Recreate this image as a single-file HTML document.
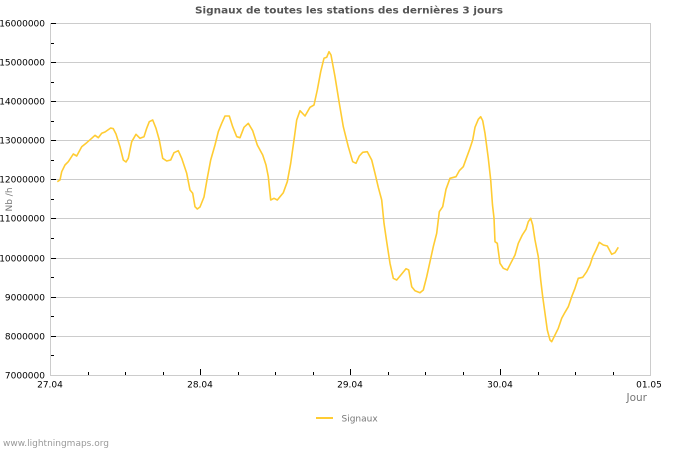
<!DOCTYPE html>
<html>
<head>
<meta charset="utf-8">
<style>
html,body{margin:0;padding:0;background:#fff;}
svg{display:block;}
text{font-family:"DejaVu Sans","Liberation Sans",sans-serif;}
</style>
</head>
<body>
<svg width="700" height="450" viewBox="0 0 700 450" xmlns="http://www.w3.org/2000/svg">
<rect width="700" height="450" fill="#fff"/>
<text x="349" y="13.5" text-anchor="middle" font-size="10" font-weight="bold" fill="#555" textLength="308" lengthAdjust="spacingAndGlyphs">Signaux de toutes les stations des dernières 3 jours</text>

<g stroke="#cccccc" stroke-width="1" shape-rendering="crispEdges">
<line x1="50" y1="23.5" x2="650" y2="23.5"/>
<line x1="50" y1="62.5" x2="650" y2="62.5"/>
<line x1="50" y1="101.5" x2="650" y2="101.5"/>
<line x1="50" y1="140.5" x2="650" y2="140.5"/>
<line x1="50" y1="179.5" x2="650" y2="179.5"/>
<line x1="50" y1="218.5" x2="650" y2="218.5"/>
<line x1="50" y1="258.5" x2="650" y2="258.5"/>
<line x1="50" y1="297.5" x2="650" y2="297.5"/>
<line x1="50" y1="336.5" x2="650" y2="336.5"/>
<line x1="50" y1="375.5" x2="650" y2="375.5"/>
<line x1="50.5" y1="23" x2="50.5" y2="376"/>
<line x1="650.5" y1="23" x2="650.5" y2="376"/>
</g>

<g stroke="#000" stroke-width="1" shape-rendering="crispEdges">
<line x1="51" y1="23.5" x2="56" y2="23.5"/>
<line x1="51" y1="62.5" x2="56" y2="62.5"/>
<line x1="51" y1="101.5" x2="56" y2="101.5"/>
<line x1="51" y1="140.5" x2="56" y2="140.5"/>
<line x1="51" y1="179.5" x2="56" y2="179.5"/>
<line x1="51" y1="218.5" x2="56" y2="218.5"/>
<line x1="51" y1="258.5" x2="56" y2="258.5"/>
<line x1="51" y1="297.5" x2="56" y2="297.5"/>
<line x1="51" y1="336.5" x2="56" y2="336.5"/>
<line x1="51" y1="43.5" x2="54" y2="43.5"/>
<line x1="51" y1="82.5" x2="54" y2="82.5"/>
<line x1="51" y1="121.5" x2="54" y2="121.5"/>
<line x1="51" y1="160.5" x2="54" y2="160.5"/>
<line x1="51" y1="199.5" x2="54" y2="199.5"/>
<line x1="51" y1="238.5" x2="54" y2="238.5"/>
<line x1="51" y1="277.5" x2="54" y2="277.5"/>
<line x1="51" y1="316.5" x2="54" y2="316.5"/>
<line x1="51" y1="355.5" x2="54" y2="355.5"/>
<line x1="200.5" y1="369" x2="200.5" y2="375"/>
<line x1="350.5" y1="369" x2="350.5" y2="375"/>
<line x1="500.5" y1="369" x2="500.5" y2="375"/>
<line x1="88.5" y1="372" x2="88.5" y2="375"/>
<line x1="125.5" y1="372" x2="125.5" y2="375"/>
<line x1="163.5" y1="372" x2="163.5" y2="375"/>
<line x1="238.5" y1="372" x2="238.5" y2="375"/>
<line x1="275.5" y1="372" x2="275.5" y2="375"/>
<line x1="313.5" y1="372" x2="313.5" y2="375"/>
<line x1="388.5" y1="372" x2="388.5" y2="375"/>
<line x1="425.5" y1="372" x2="425.5" y2="375"/>
<line x1="463.5" y1="372" x2="463.5" y2="375"/>
<line x1="538.5" y1="372" x2="538.5" y2="375"/>
<line x1="575.5" y1="372" x2="575.5" y2="375"/>
<line x1="613.5" y1="372" x2="613.5" y2="375"/>
</g>

<g font-size="9" fill="#000" text-anchor="end">
<text x="45" y="26.6">16000000</text>
<text x="45" y="65.6">15000000</text>
<text x="45" y="104.6">14000000</text>
<text x="45" y="143.6">13000000</text>
<text x="45" y="182.6">12000000</text>
<text x="45" y="221.6">11000000</text>
<text x="45" y="261.6">10000000</text>
<text x="45" y="300.6">9000000</text>
<text x="45" y="339.6">8000000</text>
<text x="45" y="378.6">7000000</text>
</g>
<g font-size="9" fill="#000" text-anchor="middle">
<text x="50" y="387.5">27.04</text>
<text x="200" y="387.5">28.04</text>
<text x="350" y="387.5">29.04</text>
<text x="500" y="387.5">30.04</text>
<text x="649" y="387.5">01.05</text>
</g>
<text x="647" y="401" font-size="10.5" fill="#777" text-anchor="end">Jour</text>
<text transform="translate(11.8,199.5) rotate(-90)" font-size="9" fill="#777" text-anchor="middle">Nb /h</text>

<polyline fill="none" stroke="#ffcc33" stroke-width="1.6" stroke-linejoin="round" points="57.3,181.7 60,180 61.7,171.7 65,165 68.3,161.7 73.3,154 76.7,156 81.7,146.7 86.7,142.7 91.7,138.3 95,135.3 98.3,137.7 101.7,133.3 105,132 110.7,128 113.3,128.7 116,134 120,146.7 123.3,160 126,162 128.3,158.3 131.7,141.7 136,134.3 140,138.3 144,136.7 146.7,128.3 149.3,121.7 152.7,120 156,128.3 159.3,140 162.7,158.3 166.7,161 170.7,160 174,152.7 178.3,150.7 181.7,158.3 186.7,173.3 190,190 192.7,193.3 195,206.7 197.3,209 200,207 204,197 207.3,178 210.7,160 215,145 218.3,131.7 221.7,123.3 225,116 229.3,116 232.7,126.7 236.7,136.7 240,137.7 244,127.3 248.3,123.3 252.7,130.7 257.3,145 262.7,155 266,165 268.3,176.7 270.7,200 274,198.3 277.3,200 283.3,192.7 287.3,181.7 290.7,163.3 294,140 296.7,120 300,110.7 305,116 310,107.3 314,105 317.3,90 320.7,71.7 324,58.3 326.7,57.3 329,51.7 331,55 335,76.7 339.3,103.3 343.3,126.7 348.3,146.7 352.7,161.7 356,163.3 359.3,156 362.7,152.3 367.3,151.7 371.7,160 375,173.3 378.3,187.3 381.7,200 384,223.3 386.7,241.7 390,263.3 393.3,278.3 396.7,280 401.7,274 406,268.7 408.7,270 411.7,286.7 415,290.7 420,292.7 423.3,290 426.7,276.7 430,261.7 433.3,246.7 436.7,233.3 439.3,211.7 442.7,206.7 446,189.3 450,178.3 456,176.7 459.3,170.7 463.3,166.7 466.7,157.3 470,148.3 472.7,140 475,127.3 478.3,119.3 480.7,116.7 482.7,120.7 485,133.3 488.3,158.3 490.7,180 492.5,205 494,218 495,241.7 497.3,243.3 500,263.3 503.3,268.3 507.3,270 510.7,263.3 515,255 518.3,243.3 522.3,235 526,229.3 528.3,221.7 530.7,218.3 532.7,225 535,240 538.3,256.7 540.7,280 542.7,296.7 545,313.3 547.3,330 550,340 551.7,341.7 555,335 558.3,328.3 561.7,318.3 565,312.3 568.3,306.7 571.7,296.7 575,288.3 578.3,278.3 582.7,277.3 586.7,271.7 590,265 592.7,256.7 596,250 599.3,242.3 603.3,245 607.3,246 611.7,254.3 615,252.7 618.3,247.3"/>

<line x1="316" y1="418" x2="333" y2="418" stroke="#ffcc33" stroke-width="2"/>
<text x="341.5" y="421.5" font-size="9" fill="#777">Signaux</text>

<text x="3" y="446" font-size="9" fill="#999">www.lightningmaps.org</text>
</svg>
</body>
</html>
